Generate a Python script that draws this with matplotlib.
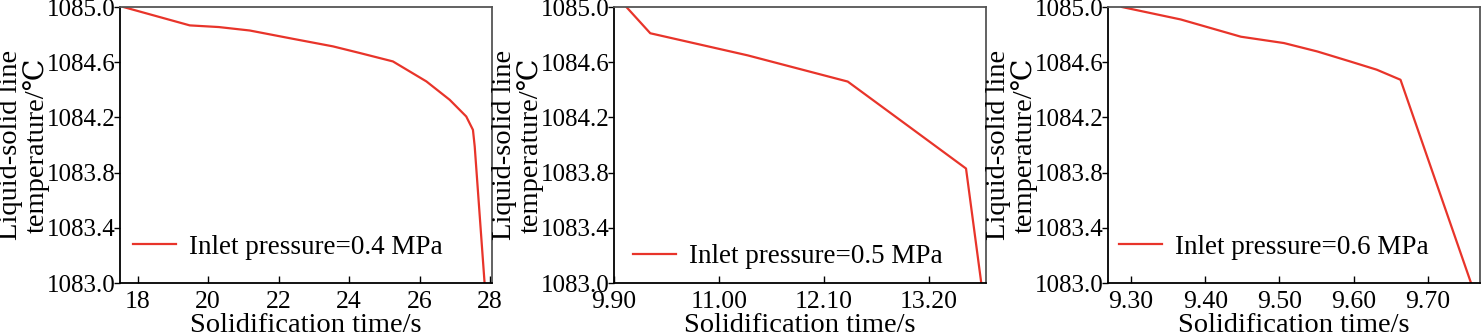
import matplotlib.pyplot as plt
from matplotlib.ticker import FormatStrFormatter

plt.rcParams['font.family'] = ['Liberation Serif', 'DejaVu Serif']

# values
tiempo_04 = [17.6, 19.48, 20.3, 21.18, 22.4, 23.54, 24.30, 25.24, 26.19, 26.85, 27.32, 27.51, 27.56, 27.84]
temp_04 = [1085.0, 1084.867, 1084.855, 1084.83, 1084.77, 1084.715, 1084.667, 1084.606, 1084.461,
           1084.328, 1084.207, 1084.11, 1083.99, 1083.0]

tiempo_05 = [10.03, 10.28, 11.3, 12.35, 13.0, 13.59, 13.75]
temp_05 = [1085.0, 1084.81, 1084.65, 1084.46, 1084.13, 1083.83, 1083.0]

tiempo_06 = [9.288, 9.367, 9.448, 9.506, 9.551, 9.595, 9.631, 9.663, 9.758]
temp_06 = [1085.0, 1084.91, 1084.785, 1084.739, 1084.678, 1084.606, 1084.546, 1084.473, 1083.0]

presiones = ['0.4', '0.5', '0.6']
xticks_04 = [18, 20, 22, 24, 26, 28]
xticks_05 = [9.90, 11.00, 12.10, 13.20]
xticks_06 = [9.30, 9.40, 9.50, 9.60, 9.70]
yticks = [1083.0, 1083.4, 1083.8, 1084.2, 1084.6, 1085.0]

series = [
    (tiempo_04, temp_04, xticks_04, '%d', (17.5, 28.05), 0.0810, (0.035, 0.13)),
    (tiempo_05, temp_05, xticks_05, '%.2f', (9.90, 13.80), 0.4146, (0.051, 0.095)),
    (tiempo_06, temp_06, xticks_06, '%.2f', (9.269, 9.77), 0.7481, (0.030, 0.13)),
]

fig = plt.figure(figsize=(14.81, 3.35), dpi=100)

for (x, y, xt, fmt, xlim, izq, pos_ley), p in zip(series, presiones):
    ax = fig.add_axes([izq, 0.155, 0.2512, 0.824])
    ax.plot(x, y, color='#e8342a', linewidth=1.6, label=f'Inlet pressure={p} MPa')
    ax.set_xlim(*xlim)
    ax.set_ylim(1083.0, 1085.0)
    ax.set_xticks(xt)
    ax.set_yticks(yticks)
    ax.xaxis.set_major_formatter(FormatStrFormatter(fmt))
    ax.yaxis.set_major_formatter(FormatStrFormatter('%.1f'))
    ax.tick_params(axis='x', direction='in', length=5, width=1, pad=6, labelsize=18.5)
    ax.tick_params(axis='y', direction='out', length=4, width=1, pad=-1, labelsize=18)
    for lado in ['top', 'right']:
        ax.spines[lado].set_color('#555555')
    for lado in ax.spines:
        ax.spines[lado].set_linewidth(1.3)
    ax.set_xlabel('Solidification time/s', fontsize=20.5, labelpad=0)
    ax.set_ylabel('Liquid-solid line\ntemperature/℃', fontsize=20.5, linespacing=1.0)
    ax.yaxis.set_label_coords(-0.188, 0.5)
    ax.legend(loc='center left', bbox_to_anchor=pos_ley, frameon=False,
              fontsize=19.5, handlelength=1.6, handletextpad=0.45,
              borderpad=0, borderaxespad=0)

fig.savefig('out.png', dpi=100)
